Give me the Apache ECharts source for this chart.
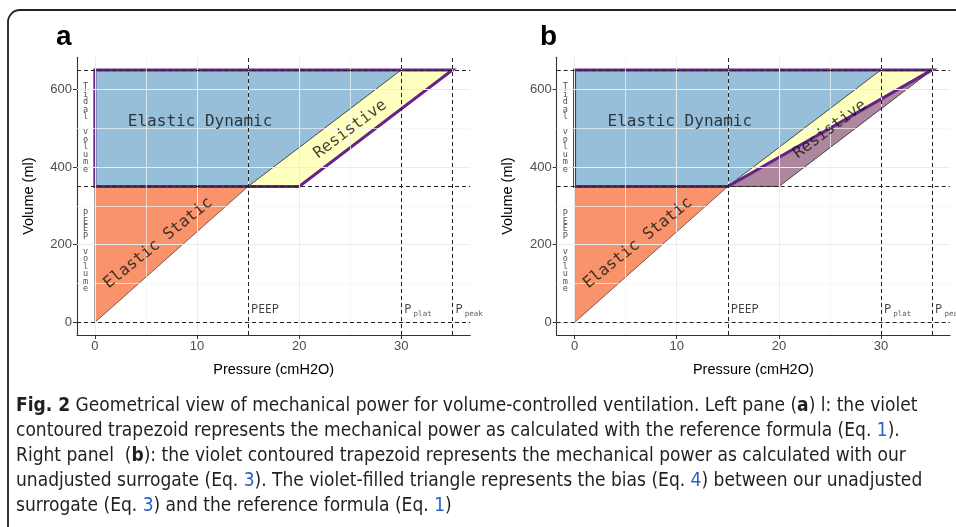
<!DOCTYPE html>
<html><head><meta charset="utf-8">
<script src="https://cdn.jsdelivr.net/npm/echarts@6/dist/echarts.min.js"></script>
<style>html,body{margin:0;padding:0;background:#fff;}#c{width:956px;height:527px;}</style>
</head><body><div id="c"></div>
<script>
// ---- data ----
const panels = ['a', 'b'];
const xTicks = [0, 10, 20, 30];
const yTicks = [0, 200, 400, 600];
const xMinor = [5, 15, 25, 35];
const yMinor = [100, 300, 500];
const xRange = [-1.75, 36.75];
const yRange = [-32.5, 682.5];
const vLines = [15, 30, 35];       // PEEP, Pplat, Ppeak
const hLines = [0, 350, 650];      // 0, PEEP volume, PEEP + tidal volume
const staticX = [0, 15, 0];
const staticY = [0, 350, 350];
const dynamicX = [0, 15, 30, 0];
const dynamicY = [350, 350, 650, 650];
const resistX = [15, 20, 35, 30];
const resistY = [350, 350, 650, 650];
const biasX = [15, 20, 35];
const biasY = [350, 350, 650];
const contourAX = [0, 20, 35, 0];
const contourAY = [350, 350, 650, 650];
const contourBX = [0, 15, 35, 0];
const contourBY = [350, 350, 650, 650];
const areaNames = ['Elastic Dynamic', 'Resistive', 'Elastic Static'];
const areaX = [10.3, 25, 6.2];
const areaY = [517, 497, 204];
const areaRot = [0, 37, 39];
const sideNames = ['Tidal volume', 'PEEP volume'];
const sideX = [-0.9, -0.9];
const sideY = [500, 182];
const pressNames = ['PEEP', 'plat', 'peak'];
const pressX = [15, 30, 35];
const captionLines = [
  '{b|Fig. 2} Geometrical view of mechanical power for volume-controlled ventilation. Left pane ({b|a}) l: the violet',
  'contoured trapezoid represents the mechanical power as calculated with the reference formula (Eq. {l|1}).',
  'Right panel  ({b|b}): the violet contoured trapezoid represents the mechanical power as calculated with our',
  'unadjusted surrogate (Eq. {l|3}). The violet-filled triangle represents the bias (Eq. {l|4}) between our unadjusted',
  'surrogate (Eq. {l|3}) and the reference formula (Eq. {l|1})'
];

// ---- styles ----
const COL = { orange: '#f8936b', blue: '#97bfda', yellow: '#ffffc0', bias: '#ad879d', violet: '#66228c' };
const gridLeft = [77, 556.7];
const capFont = '"Liberation Sans Narrow","DejaVu Sans Condensed",sans-serif';

const chart = echarts.init(document.getElementById('c'), null, { renderer: 'canvas' });

function poly(xs, ys, i, fill, stroke, lw, z) {
  return {
    type: 'custom', xAxisIndex: i, yAxisIndex: i, z: z, silent: true, clip: false,
    data: [[0, 0]],
    renderItem: function (params, api) {
      return {
        type: 'polygon',
        shape: { points: xs.map(function (x, k) { return api.coord([x, ys[k]]); }) },
        style: { fill: fill, stroke: stroke, lineWidth: lw, lineJoin: 'miter' }
      };
    }
  };
}

const grids = [], xAxes = [], yAxes = [], series = [], graphic = [];
panels.forEach(function (p, i) {
  grids.push({ left: gridLeft[i], top: 57.3, width: 393.3, height: 277.7 });
  xAxes.push({
    type: 'value', gridIndex: i, min: xRange[0], max: xRange[1],
    name: 'Pressure (cmH2O)', nameLocation: 'middle', nameGap: 27,
    nameTextStyle: { fontFamily: 'Liberation Sans', fontSize: 14.5, color: '#000' },
    axisLine: { show: true, onZero: false, lineStyle: { color: '#333', width: 1.1 } },
    axisTick: { show: true, length: 4, customValues: xTicks, lineStyle: { color: '#333' } },
    axisLabel: { customValues: xTicks, margin: 5, fontFamily: 'Liberation Sans', fontSize: 13, color: '#4d4d4d' },
    splitLine: { show: false }
  });
  yAxes.push({
    type: 'value', gridIndex: i, min: yRange[0], max: yRange[1],
    name: 'Volume (ml)', nameLocation: 'middle', nameGap: 41, nameRotate: 90,
    nameTextStyle: { fontFamily: 'Liberation Sans', fontSize: 14.5, color: '#000' },
    axisLine: { show: true, onZero: false, lineStyle: { color: '#333', width: 1.1 } },
    axisTick: { show: true, length: 4, customValues: yTicks, lineStyle: { color: '#333' } },
    axisLabel: { customValues: yTicks, margin: 5, fontFamily: 'Liberation Sans', fontSize: 13, color: '#4d4d4d' },
    splitLine: { show: false }
  });
  // grid lines
  series.push({
    type: 'line', xAxisIndex: i, yAxisIndex: i, data: [], z: 0, silent: true,
    markLine: {
      silent: true, symbol: ['none', 'none'], label: { show: false }, animation: false,
      data: xMinor.map(function (v) { return { xAxis: v, lineStyle: { color: '#f4f4f4', width: 0.7, type: 'solid' } }; })
        .concat(yMinor.map(function (v) { return { yAxis: v, lineStyle: { color: '#f4f4f4', width: 0.7, type: 'solid' } }; }))
        .concat(xTicks.map(function (v) { return { xAxis: v, lineStyle: { color: '#ebebeb', width: 1, type: 'solid' } }; }))
        .concat(yTicks.map(function (v) { return { yAxis: v, lineStyle: { color: '#ebebeb', width: 1, type: 'solid' } }; }))
    }
  });
  series.push(poly(staticX, staticY, i, COL.orange, '#222', 0.6, 2));
  series.push(poly(dynamicX, dynamicY, i, COL.blue, '#222', 0.6, 2));
  series.push(poly(resistX, resistY, i, COL.yellow, '#222', 0.6, 2));
  if (i === 0) {
    series.push(poly(contourAX, contourAY, i, 'none', COL.violet, 3, 4));
  } else {
    series.push(poly(biasX, biasY, i, COL.bias, '#222', 0.6, 3));
    series.push(poly(contourBX, contourBY, i, 'none', COL.violet, 3, 4));
  }
  // area labels + side labels + pressure labels
  const items = [];
  areaNames.forEach(function (t, k) {
    items.push({ value: [areaX[k], areaY[k]], label: {
      show: true, position: 'inside', formatter: t, rotate: areaRot[k],
      fontFamily: 'DejaVu Sans Mono', fontSize: 16, color: '#111'
    } });
  });
  sideNames.forEach(function (t, k) {
    items.push({ value: [sideX[k], sideY[k]], label: {
      show: true, position: 'inside', formatter: t.split('').join('\n'),
      fontFamily: 'DejaVu Sans Mono', fontSize: 8.5, lineHeight: 7.5, color: '#222', align: 'center'
    } });
  });
  pressNames.forEach(function (t, k) {
    const txt = k === 0 ? '{p|PEEP}' : '{p|P}{s|' + t + '}';
    items.push({ value: [pressX[k], 0], label: {
      show: true, position: [3, -21], align: 'left', verticalAlign: 'top', formatter: txt,
      rich: {
        p: { fontFamily: 'Noto Sans', fontSize: 12, color: '#111', lineHeight: 16 },
        s: { fontFamily: 'DejaVu Sans Mono', fontSize: 7.5, color: '#333', lineHeight: 16, padding: [9, 0, 0, 2] }
      }
    } });
  });
  series.push({
    type: 'scatter', xAxisIndex: i, yAxisIndex: i, symbolSize: 0, z: 6, silent: true, data: items
  });
  // dashed reference lines
  series.push({
    type: 'line', xAxisIndex: i, yAxisIndex: i, data: [], z: 8, silent: true,
    markLine: {
      silent: true, symbol: ['none', 'none'], label: { show: false }, animation: false, z: 8,
      lineStyle: { color: '#222', width: 1, type: [4, 3] },
      data: vLines.map(function (v) { return { xAxis: v }; }).concat(hLines.map(function (v) { return { yAxis: v }; }))
    }
  });
  graphic.push({ type: 'text', left: i === 0 ? 56 : 540, top: 23,
    style: { text: p, font: 'bold 28px "Liberation Sans", Arial, sans-serif', fill: '#000' } });
});

graphic.push({ type: 'rect', shape: { x: 8, y: 10, width: 1100, height: 700, r: 12 },
  style: { fill: 'none', stroke: '#222', lineWidth: 1.8 }, z: 100, silent: true });
captionLines.forEach(function (t, k) {
  graphic.push({ type: 'text', left: 16, top: 397 + k * 24.8, z: 100, silent: true,
    style: {
      text: t, font: '19px ' + capFont, fill: '#231f20',
      rich: {
        b: { fontFamily: capFont, fontSize: 19, fontWeight: 'bold', fill: '#231f20' },
        l: { fontFamily: capFont, fontSize: 19, fill: '#2a62c9' }
      }
    } });
});

chart.setOption({
  animation: false,
  backgroundColor: '#fff',
  grid: grids, xAxis: xAxes, yAxis: yAxes, series: series, graphic: graphic
});
</script></body></html>
